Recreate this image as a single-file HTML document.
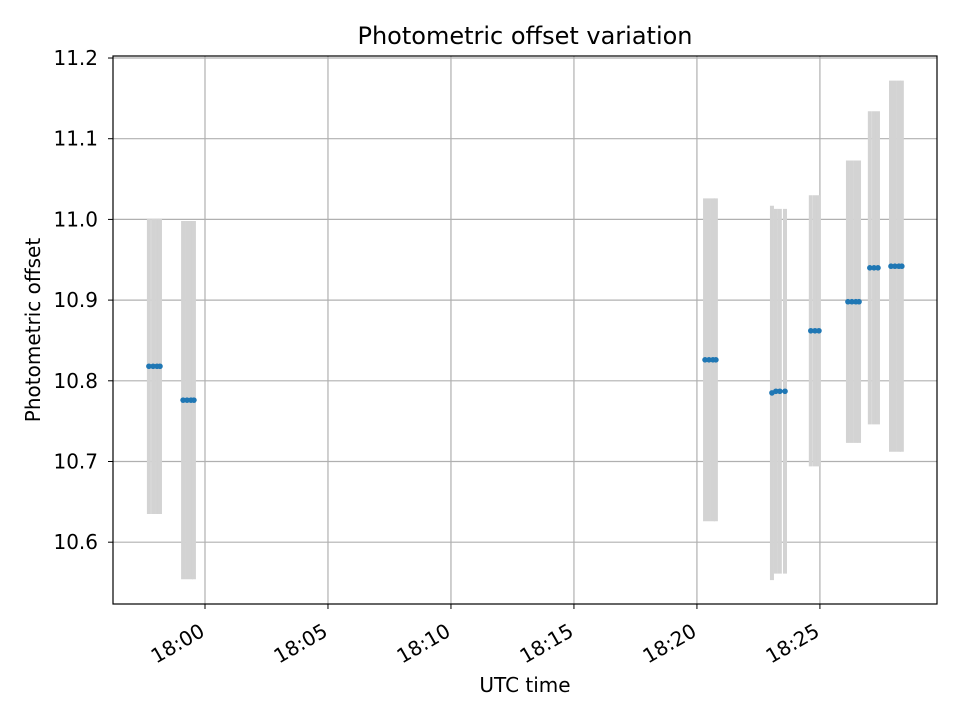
<!DOCTYPE html>
<html><head><meta charset="utf-8"><style>
body{margin:0;background:#fff;}
svg{display:block;font-family:"DejaVu Sans","Liberation Sans",sans-serif;}
</style></head><body>
<svg id="chart" width="960" height="720">
<rect width="960" height="720" fill="#fff"/>
<g id="grid"></g><g id="bars"></g><g id="pts"></g><g id="axes"></g>
</svg>
<script>
// times in minutes after 18:00
const times = [-2.28,-2.11,-1.95,-1.83, -0.89,-0.73,-0.57,-0.45, 20.33,20.49,20.65,20.77, 23.05,23.21,23.37,23.58, 24.63,24.80,24.96, 26.14,26.30,26.46,26.59, 27.03,27.20,27.36, 27.89,28.05,28.21,28.33];
const values = [10.818,10.818,10.818,10.818, 10.776,10.776,10.776,10.776, 10.826,10.826,10.826,10.826, 10.785,10.787,10.787,10.787, 10.862,10.862,10.862, 10.898,10.898,10.898,10.898, 10.940,10.940,10.940, 10.942,10.942,10.942,10.942];
const errors = [0.183,0.183,0.183,0.183, 0.222,0.222,0.222,0.222, 0.200,0.200,0.200,0.200, 0.232,0.226,0.226,0.226, 0.168,0.168,0.168, 0.175,0.175,0.175,0.175, 0.194,0.194,0.194, 0.230,0.230,0.230,0.230];
const xTicks = [0,5,10,15,20,25];
const xTickLabels = ["18:00","18:05","18:10","18:15","18:20","18:25"];
const yTicks = [10.6,10.7,10.8,10.9,11.0,11.1,11.2];

const L=113,R=937,T=56,B=604;
const xMin=-3.74,xMax=29.76,yMin=10.5234,yMax=11.2025;
const X=v=>L+(v-xMin)/(xMax-xMin)*(R-L);
const Y=v=>B-(v-yMin)/(yMax-yMin)*(B-T);
const NS="http://www.w3.org/2000/svg";
function mk(parent,tag,attrs){const e=document.createElementNS(NS,tag);for(const k in attrs)e.setAttribute(k,attrs[k]);parent.appendChild(e);return e;}
const grid=document.getElementById('grid'),bars=document.getElementById('bars'),pts=document.getElementById('pts'),axes=document.getElementById('axes');
xTicks.forEach((t,i)=>{
  const x=X(t);
  const g=mk(grid,'line',{x1:x,x2:x,y1:T,y2:B,stroke:'#b0b0b0','stroke-width':1.2});
  
  
  mk(axes,'line',{x1:x,x2:x,y1:B,y2:B+5,stroke:'#000','stroke-width':1});
  const ax=x+1, ay=B+31;
  const tx=mk(axes,'text',{x:ax,y:ay,'font-size':20,'text-anchor':'end',transform:`rotate(-30 ${ax} ${ay})`});
  tx.textContent=xTickLabels[i];
  
  
});
yTicks.forEach(v=>{
  const y=Y(v);
  const g=mk(grid,'line',{x1:L,x2:R,y1:y,y2:y,stroke:'#b0b0b0','stroke-width':1.2});
  
  
  mk(axes,'line',{x1:L-5,x2:L,y1:y,y2:y,stroke:'#000','stroke-width':1});
  const tx=mk(axes,'text',{x:L-15,y:y+7,'font-size':20,'text-anchor':'end'});
  tx.textContent=v.toFixed(1);
  
  
});
times.forEach((t,i)=>{
  const x=X(t);
  const b=mk(bars,'line',{x1:x,x2:x,y1:Y(values[i]+errors[i]),y2:Y(values[i]-errors[i]),stroke:'#d3d3d3','stroke-width':4});
  
  
});
times.forEach((t,i)=>{
  const p=mk(pts,'circle',{cx:X(t),cy:Y(values[i]),r:2.8,fill:'#1f77b4'});
  
  
});
const frame=mk(axes,'rect',{x:L,y:T,width:R-L,height:B-T,fill:'none',stroke:'#000','stroke-width':1.2});


const title=mk(axes,'text',{x:(L+R)/2,y:44,'font-size':24,'text-anchor':'middle'});
title.textContent='Photometric offset variation';


const xl=mk(axes,'text',{x:(L+R)/2,y:692,'font-size':20,'text-anchor':'middle'});
xl.textContent='UTC time';


const yl=mk(axes,'text',{x:40,y:330,'font-size':20,'text-anchor':'middle',transform:'rotate(-90 40 330)'});
yl.textContent='Photometric offset';


</script>
</body></html>
